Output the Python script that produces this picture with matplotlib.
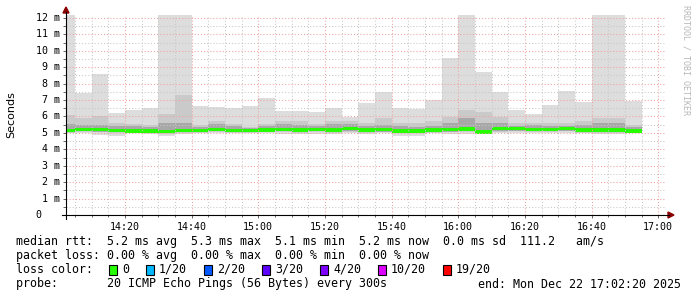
import matplotlib
matplotlib.use('Agg')
import matplotlib.pyplot as plt
import matplotlib.dates as mdates
from matplotlib.ticker import MultipleLocator
from matplotlib.patches import Polygon, Rectangle
from matplotlib.lines import Line2D
import pandas as pd

W, H = 697, 297
MONO = 'DejaVu Sans Mono'

# ---- data (milliseconds), one value per 5-minute step ending at bar_end ----
bar_end = pd.date_range('2025-12-22 14:05', periods=35, freq='5min')
max_ms = [12.5, 7.45, 8.59, 6.19, 6.39, 6.50, 12.5, 12.5, 6.64, 6.56, 6.50, 6.64,
          7.13, 6.33, 6.33, 6.27, 6.50, 5.97, 6.84, 7.47, 6.50, 6.44, 7.00, 9.56,
          12.5, 8.73, 7.49, 6.39, 6.15, 6.70, 7.57, 6.90, 12.5, 12.5, 6.96]
mid_top = [6.10, 5.90, 6.00, 5.60, 5.54, 5.46, 6.15, 7.31, 5.46, 5.70, 5.54, 5.36,
           5.54, 5.72, 5.70, 5.54, 5.70, 5.74, 5.60, 5.90, 5.60, 5.60, 5.70, 5.95,
           6.39, 6.30, 5.95, 5.60, 5.60, 5.60, 5.60, 5.70, 5.90, 5.90, 5.50]
inner_top = [5.54, 5.46, 5.50, 5.40, 5.40, 5.34, 5.60, 5.60, 5.34, 5.54, 5.40, 5.30,
             5.40, 5.54, 5.46, 5.40, 5.54, 5.54, 5.40, 5.50, 5.40, 5.34, 5.40, 5.60,
             5.90, 5.60, 5.60, 5.40, 5.46, 5.40, 5.40, 5.46, 5.60, 5.60, 5.34]
median_ms = [5.16, 5.22, 5.22, 5.14, 5.12, 5.12, 5.10, 5.14, 5.14, 5.22, 5.14, 5.14,
             5.18, 5.22, 5.18, 5.22, 5.18, 5.26, 5.18, 5.20, 5.12, 5.12, 5.18, 5.20,
             5.24, 5.05, 5.26, 5.26, 5.22, 5.22, 5.26, 5.18, 5.18, 5.18, 5.12]
inner_bot = [5.06, 5.10, 5.08, 5.04, 5.02, 5.02, 5.00, 5.04, 5.04, 5.10, 5.04, 5.04,
             5.08, 5.10, 5.06, 5.10, 5.06, 5.12, 5.06, 5.08, 5.02, 5.02, 5.06, 5.08,
             5.10, 4.96, 5.12, 5.14, 5.10, 5.10, 5.14, 5.06, 5.06, 5.06, 5.02]
mid_bot = [5.01, 5.05, 5.03, 4.99, 4.97, 4.97, 4.95, 4.99, 4.99, 5.05, 4.99, 4.99,
           5.03, 5.05, 5.01, 5.05, 5.01, 5.07, 5.01, 5.03, 4.97, 4.97, 5.01, 5.03,
           5.05, 4.95, 5.07, 5.09, 5.05, 5.05, 5.09, 5.01, 5.01, 5.01, 4.97]
min_ms = [4.97, 4.97, 4.87, 4.81, 4.97, 4.93, 4.83, 4.93, 4.97, 4.97, 4.97, 4.97,
          4.97, 4.95, 4.95, 4.93, 4.93, 4.97, 4.93, 4.97, 4.83, 4.83, 4.97, 4.95,
          4.95, 4.93, 4.97, 5.00, 5.00, 4.97, 4.97, 4.97, 4.93, 4.93, 5.00]

y_labels = ['0  ', ' 1 m', ' 2 m', ' 3 m', ' 4 m', ' 5 m', ' 6 m', ' 7 m', ' 8 m',
            ' 9 m', '10 m', '11 m', '12 m']

loss_labels = ['0', '1/20', '2/20', '3/20', '4/20', '10/20', '19/20']
loss_colors = ['#26ff00', '#00b8ff', '#0059ff', '#5e00ff', '#7e00ff', '#dd00ff', '#ff0000']

line_rtt = "median rtt:  5.2 ms avg  5.3 ms max  5.1 ms min  5.2 ms now  0.0 ms sd  111.2   am/s"
line_loss = "packet loss: 0.00 % avg  0.00 % max  0.00 % min  0.00 % now"
line_probe = "probe:       20 ICMP Echo Pings (56 Bytes) every 300s"
line_end = "end: Mon Dec 22 17:02:20 2025"

t_start = pd.Timestamp('2025-12-22 14:02:20')
t_end = pd.Timestamp('2025-12-22 17:02:20')

# ---- figure ----
fig = plt.figure(figsize=(W / 100, H / 100), dpi=100)
fig.patch.set_facecolor('white')


def fx(x):
    return x / W


def fy(y):
    return 1 - y / H


ax_left, ax_right, ax_top, ax_bot = 66, 666, 15, 215
ax = fig.add_axes([fx(ax_left), fy(ax_bot), (ax_right - ax_left) / W, (ax_bot - ax_top) / H])
ax.set_facecolor('white')

starts = mdates.date2num((bar_end - pd.Timedelta(minutes=5)).to_pydatetime())
width = 5 / 1440.0


def band(lo, hi, color, z):
    ax.bar(starts, [h - l for l, h in zip(lo, hi)], bottom=lo, width=width,
           align='edge', color=color, linewidth=0, antialiased=False, zorder=z)


band(min_ms, max_ms, '#dddddd', 1)
band(mid_bot, mid_top, '#cacaca', 1.1)
band(inner_bot, inner_top, '#a8a8a8', 1.2)
band([m - 0.1 for m in median_ms], [m + 0.1 for m in median_ms], loss_colors[0], 2)

ax.set_xlim(mdates.date2num(t_start.to_pydatetime()), mdates.date2num(t_end.to_pydatetime()))
ax.set_ylim(0, (ax_bot - ax_top) / 16.42)

ax.xaxis.set_major_locator(mdates.MinuteLocator(byminute=[0, 20, 40]))
ax.xaxis.set_minor_locator(mdates.MinuteLocator(byminute=range(0, 60, 5)))
ax.xaxis.set_major_formatter(mdates.DateFormatter('%H:%M'))
ax.yaxis.set_major_locator(MultipleLocator(1))
ax.yaxis.set_minor_locator(MultipleLocator(0.5))
ax.set_yticklabels([])

ax.set_axisbelow(False)
ax.grid(which='major', color='#f2a0a0', linestyle=(0, (1, 2)), linewidth=0.75, zorder=3)
ax.grid(which='minor', color='#c8c8c8', linestyle=(0, (1, 2)), linewidth=0.75, zorder=3)

for s in ax.spines.values():
    s.set_visible(False)

ax.tick_params(axis='both', which='both', direction='out', color='#666666', width=0.7)
ax.tick_params(axis='x', which='major', length=2.2, pad=2.5)
ax.tick_params(axis='x', which='minor', length=1.5)
ax.tick_params(axis='y', which='both', length=2.2)
for lab in ax.get_xticklabels():
    lab.set_fontfamily(MONO)
    lab.set_fontsize(7.2)

# y tick labels (monospace, left aligned like rrdtool)
for i, lab in enumerate(y_labels):
    ypix = ax_bot - i * 16.42
    fig.text(fx(36), fy(ypix), lab, ha='left', va='center', family=MONO, fontsize=7.2)

# axis lines + arrows
fig.add_artist(Line2D([fx(66), fx(66)], [fy(219), fy(12)], color='black', lw=0.8))
fig.add_artist(Line2D([fx(62), fx(669)], [fy(215), fy(215)], color='black', lw=0.8))
fig.add_artist(Polygon([(fx(63), fy(13)), (fx(69), fy(13)), (fx(66), fy(7))],
                       closed=True, color='#8b0000', transform=fig.transFigure))
fig.add_artist(Polygon([(fx(668), fy(212)), (fx(668), fy(218)), (fx(674), fy(215))],
                       closed=True, color='#8b0000', transform=fig.transFigure))

# titles
fig.text(fx(11), fy(115), 'Seconds', rotation=90, ha='center', va='center', fontsize=8)
fig.text(fx(686), fy(5), 'RRDTOOL / TOBI OETIKER', rotation=270, ha='center', va='top',
         family=MONO, fontsize=6, color='#b8b8b8')

# legend
FS = 8.37
CW = 7.0
fig.text(fx(16), fy(241), line_rtt, ha='left', va='center', family=MONO, fontsize=FS)
fig.text(fx(16), fy(255), line_loss, ha='left', va='center', family=MONO, fontsize=FS)
fig.text(fx(16), fy(269.5), 'loss color:', ha='left', va='center', family=MONO, fontsize=FS)
xpos = 109
for lab, col in zip(loss_labels, loss_colors):
    fig.add_artist(Rectangle((fx(xpos), fy(274.5)), 8 / W, 10 / H, transform=fig.transFigure,
                             facecolor=col, edgecolor='black', linewidth=0.8))
    fig.text(fx(xpos + 13), fy(269.5), lab, ha='left', va='center', family=MONO, fontsize=FS)
    xpos = xpos + 13 + len(lab) * CW + 17
fig.text(fx(16), fy(284), line_probe, ha='left', va='center', family=MONO, fontsize=FS)
fig.text(fx(681), fy(284), line_end, ha='right', va='center', family=MONO, fontsize=FS)

fig.savefig('out.png', dpi=100, facecolor='white')
